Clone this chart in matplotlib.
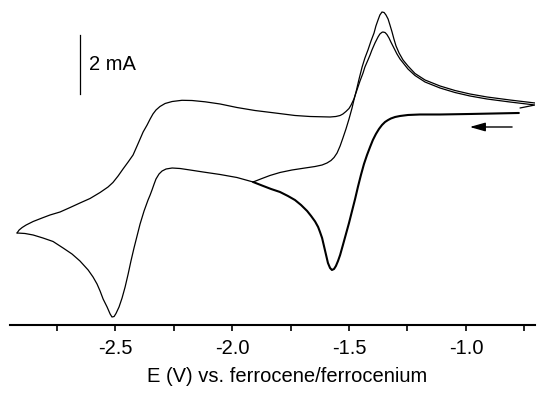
import matplotlib
matplotlib.use("Agg")
import matplotlib.pyplot as plt

plt.rcParams['font.family'] = ['Liberation Sans', 'DejaVu Sans']
plt.rcParams['axes.unicode_minus'] = False

# common cathodic sweep, -0.77 V -> -1.91 V (current in mA)
E1 = [-0.774, -0.983, -1.111, -1.197, -1.248, -1.282, -1.303, -1.321, -1.333,
      -1.346, -1.359, -1.372, -1.385, -1.398, -1.410, -1.423, -1.436, -1.449,
      -1.462, -1.474, -1.487, -1.500, -1.513, -1.526, -1.538, -1.547, -1.556,
      -1.564, -1.573, -1.581, -1.590, -1.598, -1.607, -1.615, -1.624, -1.632,
      -1.645, -1.662, -1.679, -1.705, -1.731, -1.761, -1.795, -1.833, -1.872,
      -1.910]
I1 = [0.102, 0.068, 0.051, 0.051, 0.034, 0.000, -0.034, -0.085, -0.136,
      -0.203, -0.305, -0.441, -0.610, -0.814, -1.051, -1.322, -1.627, -2.000,
      -2.407, -2.814, -3.220, -3.627, -4.000, -4.373, -4.712, -4.915, -5.085,
      -5.186, -5.220, -5.153, -4.983, -4.712, -4.407, -4.136, -3.932, -3.763,
      -3.576, -3.390, -3.220, -3.017, -2.848, -2.712, -2.576, -2.475, -2.356,
      -2.237]

# first cycle, return from -1.91 V
E2 = [-1.910, -1.872, -1.838, -1.795, -1.744, -1.688, -1.645, -1.615, -1.594,
      -1.577, -1.564, -1.551, -1.538, -1.526, -1.513, -1.500, -1.487, -1.479,
      -1.468, -1.457, -1.444, -1.432, -1.419, -1.406, -1.393, -1.385, -1.376,
      -1.368, -1.359, -1.350, -1.342, -1.333, -1.325, -1.316, -1.308, -1.299,
      -1.286, -1.269, -1.248, -1.218, -1.175, -1.111, -1.047, -0.983, -0.910,
      -0.812, -0.705]
I2 = [-2.237, -2.119, -2.017, -1.915, -1.831, -1.763, -1.712, -1.661, -1.593,
      -1.509, -1.407, -1.254, -1.017, -0.746, -0.441, -0.102, 0.271, 0.542,
      0.881, 1.254, 1.661, 1.966, 2.237, 2.542, 2.813, 3.051, 3.254,
      3.424, 3.525, 3.508, 3.424, 3.288, 3.085, 2.847, 2.610, 2.373,
      2.135, 1.898, 1.695, 1.441, 1.220, 1.017, 0.864, 0.746, 0.644,
      0.542, 0.441]

# second cycle, continued cathodic sweep down to -2.92 V
E3 = [-1.910, -1.979, -2.051, -2.124, -2.179, -2.222, -2.256, -2.282, -2.299,
      -2.312, -2.325, -2.333, -2.342, -2.350, -2.359, -2.376, -2.393, -2.406,
      -2.419, -2.432, -2.444, -2.457, -2.470, -2.483, -2.496, -2.504, -2.513,
      -2.521, -2.534, -2.551, -2.564, -2.577, -2.594, -2.615, -2.650, -2.684,
      -2.722, -2.765, -2.808, -2.850, -2.885, -2.919]
I3 = [-2.237, -2.085, -1.983, -1.898, -1.831, -1.780, -1.763, -1.797, -1.865,
      -1.966, -2.136, -2.305, -2.508, -2.678, -2.848, -3.220, -3.661, -4.068,
      -4.475, -4.915, -5.356, -5.797, -6.170, -6.475, -6.695, -6.797, -6.814,
      -6.712, -6.475, -6.204, -5.932, -5.695, -5.458, -5.220, -4.915, -4.678,
      -4.475, -4.254, -4.136, -4.034, -3.983, -3.966]

# second cycle, return from -2.92 V
E4 = [-2.919, -2.910, -2.897, -2.880, -2.850, -2.812, -2.778, -2.735, -2.692,
      -2.650, -2.607, -2.564, -2.530, -2.509, -2.487, -2.466, -2.444, -2.423,
      -2.406, -2.393, -2.380, -2.363, -2.350, -2.338, -2.325, -2.308, -2.286,
      -2.256, -2.214, -2.171, -2.115, -2.051, -1.979, -1.902, -1.816, -1.731,
      -1.667, -1.581, -1.556, -1.538, -1.526, -1.513, -1.500, -1.491, -1.479,
      -1.466, -1.453, -1.440, -1.432, -1.419, -1.410, -1.402, -1.389, -1.376,
      -1.368, -1.359, -1.355, -1.346, -1.338, -1.329, -1.321, -1.308, -1.295,
      -1.282, -1.265, -1.248, -1.218, -1.175, -1.111, -1.047, -0.983, -0.910,
      -0.812, -0.705, -0.769]
I4 = [-3.966, -3.865, -3.780, -3.695, -3.576, -3.458, -3.356, -3.254, -3.102,
      -2.949, -2.797, -2.593, -2.407, -2.254, -2.034, -1.797, -1.559, -1.322,
      -1.017, -0.780, -0.542, -0.305, -0.102, 0.068, 0.203, 0.322, 0.424,
      0.491, 0.532, 0.525, 0.481, 0.407, 0.288, 0.186, 0.102, 0.017,
      -0.017, -0.034, -0.017, 0.017, 0.068, 0.153, 0.254, 0.373, 0.576,
      0.881, 1.186, 1.457, 1.661, 1.898, 2.068, 2.237, 2.474, 2.678,
      2.780, 2.837, 2.847, 2.830, 2.763, 2.644, 2.508, 2.305, 2.102,
      1.932, 1.763, 1.593, 1.373, 1.152, 0.949, 0.796, 0.678, 0.576,
      0.474, 0.373, 0.271]

xticks = [-2.5, -2.0, -1.5, -1.0]
xticklabels = ['-2.5', '-2.0', '-1.5', '-1.0']
minor_ticks = [-2.75, -2.25, -1.75, -1.25, -0.75]

fig = plt.figure(figsize=(5.5, 3.94), dpi=100)
ax = fig.add_axes([10 / 550, 69 / 394, 525 / 550, 325 / 394])

style = dict(color='black', solid_joinstyle='round', solid_capstyle='round')
ax.plot(E1, I1, lw=1.5, **style)
ax.plot(E2, I2, lw=0.9, **style)
ax.plot(E3, I3, lw=0.9, **style)
ax.plot(E4, I4, lw=0.9, **style)

ax.set_xlim(-2.949, -0.705)
ax.set_ylim(-7.085, 3.932)

for side in ['left', 'top', 'right']:
    ax.spines[side].set_visible(False)
ax.spines['bottom'].set_linewidth(1.5)
ax.set_yticks([])
ax.set_xticks(xticks)
ax.set_xticklabels(xticklabels, fontsize=14.5)
ax.set_xticks(minor_ticks, minor=True)
ax.tick_params(axis='x', which='both', direction='out', length=4.3, width=1.2, pad=6)
ax.set_xlabel('E (V) vs. ferrocene/ferrocenium', fontsize=14.5, x=0.528, labelpad=6)

# 2 mA scale bar
ax.plot([-2.650, -2.650], [0.746, 2.746], color='black', lw=0.9)
ax.text(-2.611, 1.73, '2 mA', fontsize=14.5, va='center', ha='left')

# scan direction arrow
ax.annotate('', xy=(-0.996, -0.373), xytext=(-0.791, -0.373),
            arrowprops=dict(arrowstyle='-|>,head_length=0.78,head_width=0.22',
                            color='black', lw=1.0, mutation_scale=12))

fig.savefig('out.png', dpi=100)
